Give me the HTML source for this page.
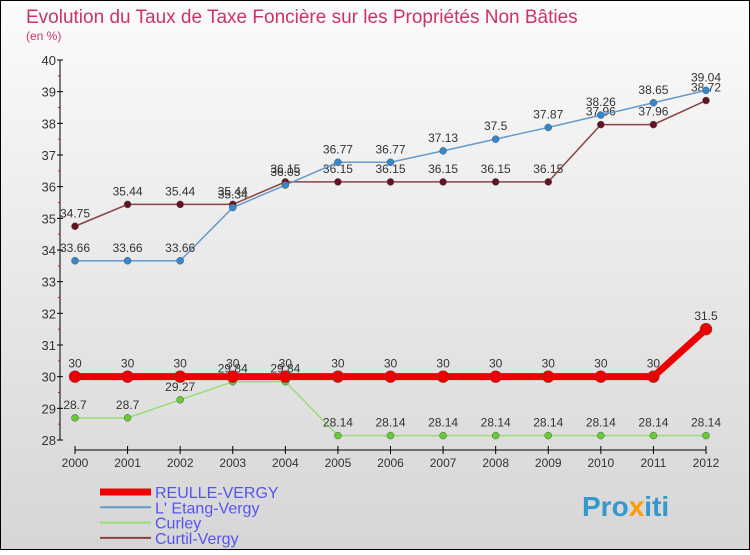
<!DOCTYPE html>
<html><head><meta charset="utf-8"><style>
body{margin:0}
svg text{font-family:"Liberation Sans","DejaVu Sans",sans-serif}
</style></head><body>
<svg id="chart" width="750" height="550" xmlns="http://www.w3.org/2000/svg">
<defs><linearGradient id="bg" x1="0" y1="0" x2="0" y2="1"><stop offset="0" stop-color="#fbfbfb"/><stop offset="1" stop-color="#d6d6d6"/></linearGradient></defs>
<rect x="0.5" y="0.5" width="749" height="549" fill="url(#bg)" stroke="#000" stroke-width="1"/>
<text x="26" y="23" font-size="19" fill="#cc3366">Evolution du Taux de Taxe Foncière sur les Propriétés Non Bâties</text>
<text x="26" y="40" font-size="12" fill="#cc3366">(en %)</text>
<g id="axes"></g>
<g id="series"></g>
<g id="legend"></g>
<text x="582" y="516" font-size="28" font-weight="bold" fill="#3399cc">Pro<tspan fill="#ff9900">x</tspan>iti</text>
</svg>
<script>
const years=[2000,2001,2002,2003,2004,2005,2006,2007,2008,2009,2010,2011,2012];
const reulle=[30,30,30,30,30,30,30,30,30,30,30,30,31.5];
const etang=[33.66,33.66,33.66,35.34,36.05,36.77,36.77,37.13,37.5,37.87,38.26,38.65,39.04];
const curley=[28.7,28.7,29.27,29.84,29.84,28.14,28.14,28.14,28.14,28.14,28.14,28.14,28.14];
const curtil=[34.75,35.44,35.44,35.44,36.15,36.15,36.15,36.15,36.15,36.15,37.96,37.96,38.72];
const yTicks=[28,29,30,31,32,33,34,35,36,37,38,39,40];
const NS="http://www.w3.org/2000/svg";
const x=i=>75+i*(706-75)/(years.length-1);
const y=v=>440-(v-28)*(380/12);
function mk(t,a,p){const e=document.createElementNS(NS,t);for(const k in a)e.setAttribute(k,a[k]);p.appendChild(e);return e;}
const ax=document.getElementById('axes');
let yl=mk('line',{x1:60,y1:60,x2:60,y2:440,stroke:'#000'},ax);


yTicks.forEach(v=>{
 mk('line',{x1:57,x2:63,y1:y(v),y2:y(v),stroke:'#000'},ax);
 if(v<40)mk('line',{x1:58,x2:60,y1:y(v+0.5),y2:y(v+0.5),stroke:'#f00'},ax);
 const t=mk('text',{x:56,y:y(v)+5,'font-size':13,'text-anchor':'end',fill:'#333'},ax);t.textContent=v;
 
 
});
let xl=mk('line',{x1:75,y1:450,x2:706,y2:450,stroke:'#000'},ax);


years.forEach((yr,i)=>{
 mk('line',{x1:x(i),x2:x(i),y1:446,y2:454,stroke:'#000'},ax);
 const t=mk('text',{x:x(i),y:467,'font-size':12,'text-anchor':'middle',fill:'#333'},ax);t.textContent=yr;
 
 
});
const sg=document.getElementById('series');
function series(vals,color,w,r,name,dots){
 const g=mk('g',{},sg);
 
 
 mk('polyline',{points:vals.map((v,i)=>x(i)+','+y(v)).join(' '),fill:'none',stroke:color,'stroke-width':w},g);
 vals.forEach((v,i)=>{
  const c=mk('circle',{cx:x(i),cy:y(v),r:r,fill:dots,stroke:'#555','stroke-width':0.5},g);
  
  
  const t=mk('text',{x:x(i),y:y(v)-9,'font-size':12,'text-anchor':'middle',fill:'#333'},g);t.textContent=v;
 });
}
series(curtil,'#884444',1.5,3.5,'series-curtil-vergy','#661122');
series(etang,'#6699cc',1.5,3.5,'series-etang-vergy','#3388cc');
series(curley,'#99dd77',1.5,3.5,'series-curley','#66cc33');
series(reulle,'#ee0000',7,6,'series-reulle-vergy','#ee0000');
const lg=document.getElementById('legend');
[['REULLE-VERGY','#ee0000',7],["L' Etang-Vergy",'#6699cc',2],['Curley','#99dd77',2],['Curtil-Vergy','#884444',2]].forEach((d,i)=>{
 const yy=492+i*15.3;
 const g=mk('g',{},lg);
 
 
 mk('line',{x1:100,x2:151,y1:yy,y2:yy,stroke:d[1],'stroke-width':d[2]},g);
 const t=mk('text',{x:155,y:yy+6,'font-size':16,fill:'#5555ee'},g);t.textContent=d[0];
});
</script>
</body></html>
